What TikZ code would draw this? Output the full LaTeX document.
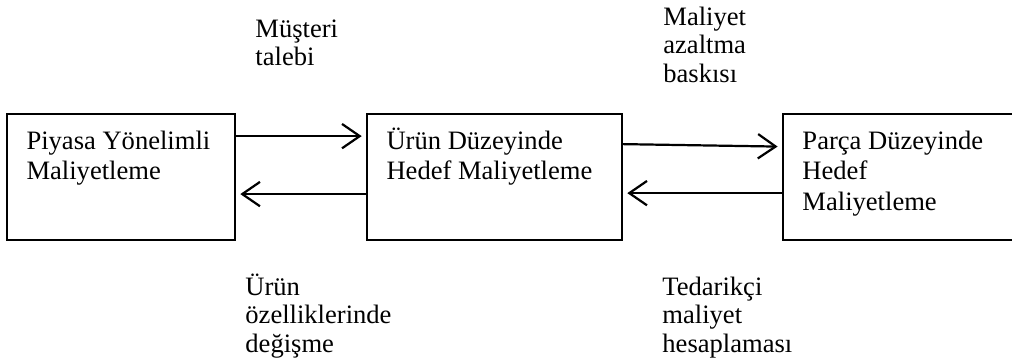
\documentclass[tikz,border=0pt]{standalone}
\usepackage{fontspec}
\setmainfont{Liberation Serif}
\usetikzlibrary{arrows.meta}
\newcommand{\lnstrut}{\rule{0pt}{11pt}}

\begin{document}
\begin{tikzpicture}[
  box/.style={draw, line width=0.8pt, minimum width=#1, minimum height=2cm, inner sep=0pt},
  boxtext/.style={anchor=north west, inner sep=0pt, align=left, font=\fontsize{12}{13.7}\selectfont},
  note/.style={anchor=north west, inner sep=0pt, align=left, font=\fontsize{12}{12.9}\selectfont},
  flow/.style={line width=1pt, -{Straight Barb[length=8pt,width=11pt]}, shorten >=2pt}
]
\clip (0,0) rectangle (16.065,-5.762);
\node[box=3.619cm] (piyasa) at (1.921,-2.810) {};
\node[box=4.048cm] (urun) at (7.850,-2.810) {};
\node[box=4.048cm] (parca) at (14.453,-2.810) {};
\node[boxtext] (piyasatxt) at ([xshift=0.317cm,yshift=-0.183cm]piyasa.north west) {\lnstrut Piyasa Yönelimli\\Maliyetleme};
\node[boxtext] (uruntxt) at ([xshift=0.317cm,yshift=-0.183cm]urun.north west) {\lnstrut Ürün Düzeyinde\\Hedef Maliyetleme};
\node[boxtext] (parcatxt) at ([xshift=0.317cm,yshift=-0.183cm]parca.north west) {\lnstrut Parça Düzeyinde\\Hedef\\Maliyetleme};
\draw[flow] ([yshift=-0.365cm]piyasa.north east) -- ([yshift=-0.365cm]urun.north west);
\draw[flow] ([yshift=-1.285cm]urun.north west) -- ([yshift=-1.285cm]piyasa.north east);
\draw[flow] ([yshift=-0.492cm]urun.north east) -- ([yshift=-0.532cm]parca.north west);
\draw[flow] ([yshift=-1.270cm]parca.north west) -- ([yshift=-1.270cm]urun.north east);
\node[note] (talep) at (4.048,-0.199) {\lnstrut Müşteri\\talebi};
\node[note] (baski) at (10.524,-0.009) {\lnstrut Maliyet\\azaltma\\baskısı};
\node[note] (degisme) at (3.889,-4.295) {\lnstrut Ürün\\özelliklerinde\\değişme};
\node[note] (tedarik) at (10.509,-4.295) {\lnstrut Tedarikçi\\maliyet\\hesaplaması};
\end{tikzpicture}
\end{document}
